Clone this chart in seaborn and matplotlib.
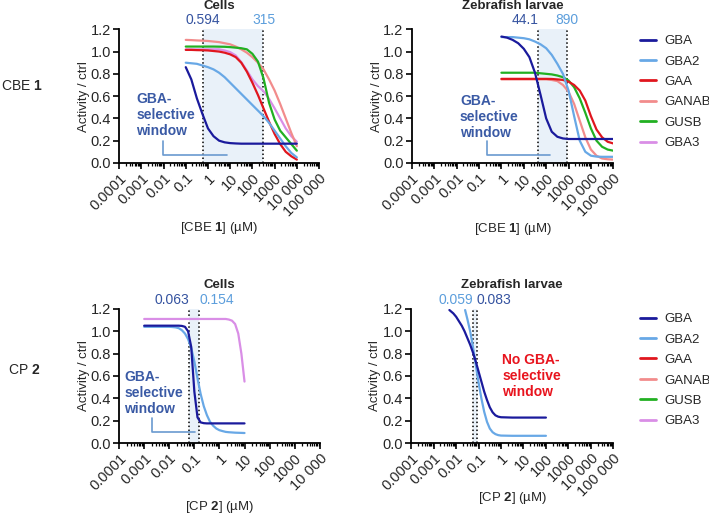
import numpy as np
import pandas as pd
import matplotlib.pyplot as plt
from matplotlib.lines import Line2D
from matplotlib.ticker import FixedLocator, LogLocator, NullFormatter
import seaborn as sns

sns.set_style('ticks')
plt.rcParams['font.family'] = ['Liberation Sans', 'DejaVu Sans']
plt.rcParams['mathtext.fontset'] = 'custom'
plt.rcParams['mathtext.rm'] = 'Liberation Sans'
plt.rcParams['mathtext.bf'] = 'Liberation Sans:bold'

enzymes = ['GBA', 'GBA2', 'GAA', 'GANAB', 'GUSB', 'GBA3']
colors = {'GBA': '#1a1a9c', 'GBA2': '#68a8e6', 'GAA': '#e0161e',
          'GANAB': '#f28c8c', 'GUSB': '#22b022', 'GBA3': '#d98ee6'}
draw_order = ['GBA3', 'GANAB', 'GUSB', 'GAA', 'GBA2', 'GBA']

# CBE 1 in cells (log10 concentration in uM)
c1_log = [-1, -0.75, -0.5, -0.25, 0, 0.25, 0.5, 0.75, 1, 1.25, 1.5,
          1.75, 2, 2.25, 2.5, 2.75, 3, 3.25, 3.5, 3.75, 4]
c1_gba = [0.86, 0.75, 0.58, 0.44, 0.31, 0.24, 0.20, 0.185, 0.178, 0.175, 0.173,
          0.173, 0.173, 0.173, 0.173, 0.173, 0.173, 0.173, 0.173, 0.173, 0.173]
c1_gba2 = [0.90, 0.895, 0.89, 0.875, 0.86, 0.84, 0.81, 0.77, 0.72, 0.67, 0.62,
           0.57, 0.52, 0.47, 0.42, 0.36, 0.29, 0.22, 0.15, 0.09, 0.05]
c1_gaa = [1.015, 1.015, 1.013, 1.012, 1.01, 1.005, 1.0, 0.99, 0.975, 0.95, 0.90,
          0.82, 0.72, 0.61, 0.49, 0.37, 0.26, 0.17, 0.10, 0.06, 0.03]
c1_ganab = [1.105, 1.103, 1.10, 1.098, 1.095, 1.09, 1.085, 1.075, 1.065, 1.045, 1.02,
            0.99, 0.95, 0.90, 0.84, 0.75, 0.65, 0.53, 0.40, 0.27, 0.15]
c1_gusb = [1.045, 1.045, 1.045, 1.045, 1.045, 1.045, 1.044, 1.043, 1.04, 1.035, 1.03,
           1.02, 0.98, 0.91, 0.76, 0.54, 0.39, 0.29, 0.23, 0.17, 0.11]
c1_gba3 = [1.02, 1.02, 1.02, 1.02, 1.02, 1.02, 1.02, 1.01, 0.995, 0.965, 0.905,
           0.83, 0.75, 0.69, 0.645, 0.575, 0.49, 0.40, 0.31, 0.24, 0.19]

# CBE 1 in zebrafish larvae
z1_log = [0, 0.25, 0.5, 0.75, 1, 1.25, 1.5, 1.75, 2, 2.25, 2.5,
          2.75, 3, 3.25, 3.5, 3.75, 4, 4.25, 4.5, 4.75, 5]
z1_gba = [1.135, 1.125, 1.105, 1.075, 1.025, 0.95, 0.81, 0.61, 0.40, 0.28, 0.235,
          0.22, 0.215, 0.215, 0.215, 0.215, 0.215, 0.215, 0.215, 0.215, 0.215]
z1_gba2 = [1.13, 1.13, 1.13, 1.125, 1.12, 1.11, 1.09, 1.065, 1.03, 0.97, 0.89,
           0.80, 0.65, 0.42, 0.20, 0.10, 0.065, 0.057, 0.055, 0.055, 0.055]
z1_gaa = [0.755, 0.755, 0.755, 0.755, 0.755, 0.755, 0.755, 0.755, 0.755, 0.754, 0.75,
          0.745, 0.73, 0.70, 0.65, 0.56, 0.42, 0.30, 0.23, 0.19, 0.175]
z1_ganab = [0.75, 0.75, 0.75, 0.75, 0.75, 0.75, 0.75, 0.75, 0.75, 0.745, 0.735,
            0.70, 0.64, 0.53, 0.38, 0.23, 0.12, 0.065, 0.04, 0.033, 0.03]
z1_gusb = [0.81, 0.81, 0.81, 0.81, 0.81, 0.81, 0.81, 0.805, 0.80, 0.795, 0.785,
           0.77, 0.74, 0.68, 0.58, 0.45, 0.31, 0.20, 0.145, 0.12, 0.11]

# CP 2 in cells
c2_log = [-3, -2.875, -2.75, -2.625, -2.5, -2.375, -2.25, -2.125, -2, -1.875, -1.75,
          -1.625, -1.5, -1.375, -1.25, -1.125, -1, -0.875, -0.75, -0.625, -0.5,
          -0.375, -0.25, -0.125, 0, 0.125, 0.25, 0.375, 0.5, 0.625, 0.75, 0.875, 1]
c2_gba = [1.05, 1.05, 1.05, 1.05, 1.05, 1.05, 1.05, 1.05, 1.05, 1.05, 1.05,
          1.05, 1.048, 1.04, 1.00, 0.86, 0.46, 0.23, 0.185, 0.178, 0.176,
          0.176, 0.176, 0.176, 0.176, 0.176, 0.176, 0.176, 0.176, 0.176, 0.176, 0.176, 0.176]
c2_gba2 = [1.04, 1.04, 1.04, 1.04, 1.04, 1.04, 1.04, 1.04, 1.04, 1.038, 1.035,
           1.028, 1.01, 0.98, 0.93, 0.85, 0.73, 0.58, 0.44, 0.33, 0.25,
           0.19, 0.155, 0.13, 0.115, 0.107, 0.10, 0.097, 0.095, 0.093, 0.092, 0.091, 0.09]
c2_gba3 = [1.11, 1.11, 1.11, 1.11, 1.11, 1.11, 1.11, 1.11, 1.11, 1.11, 1.11,
           1.11, 1.11, 1.11, 1.11, 1.11, 1.11, 1.11, 1.11, 1.11, 1.11,
           1.11, 1.11, 1.11, 1.11, 1.11, 1.11, 1.105, 1.095, 1.065, 0.98, 0.80, 0.55]

# CP 2 in zebrafish larvae
z2_gba_log = [-2.3, -2.125, -2, -1.875, -1.75, -1.625, -1.5, -1.375, -1.25, -1.125, -1,
              -0.875, -0.75, -0.625, -0.5, -0.375, -0.25, -0.125, 0, 0.5, 1, 1.5, 2]
z2_gba = [1.19, 1.16, 1.13, 1.09, 1.05, 1.00, 0.94, 0.88, 0.81, 0.73, 0.64,
          0.55, 0.46, 0.385, 0.32, 0.275, 0.248, 0.236, 0.231, 0.228, 0.228, 0.228, 0.228]
z2_gba2_log = [-1.6, -1.5, -1.375, -1.25, -1.125, -1, -0.875, -0.75, -0.625,
               -0.5, -0.375, -0.25, -0.125, 0, 0.5, 1, 1.5, 2]
z2_gba2 = [1.19, 1.11, 1.0, 0.86, 0.70, 0.54, 0.40, 0.28, 0.19,
           0.13, 0.097, 0.08, 0.071, 0.067, 0.065, 0.065, 0.065, 0.065]

# IC50 markers (value, enzyme it belongs to)
c1_ic50 = [(0.594, 'GBA'), (315, 'GBA2')]
z1_ic50 = [(44.1, 'GBA'), (890, 'GBA2')]
c2_ic50 = [(0.063, 'GBA'), (0.154, 'GBA2')]
z2_ic50 = [(0.059, 'GBA2'), (0.083, 'GBA')]

ic50_colors = {'GBA': '#3553a0', 'GBA2': '#5c9edc'}
window_color = '#3a5aa5'
bracket_color = '#6a9ad0'

tick_text = {1e-4: '0.0001', 1e-3: '0.001', 1e-2: '0.01', 1e-1: '0.1', 1: '1',
             10: '10', 100: '100', 1000: '1000', 1e4: '10 000', 1e5: '100 000'}


def curves_frame(curves):
    parts = []
    for name, logc, vals in curves:
        parts.append(pd.DataFrame({'conc': 10 ** np.array(logc, dtype=float),
                                   'activity': vals, 'enzyme': name}))
    return pd.concat(parts, ignore_index=True)


def draw_panel(ax, curves, xmax, ic50, aligns, title, xlabel):
    ax.set_xscale('log')
    df = curves_frame(curves)
    order = [e for e in draw_order if e in set(df['enzyme'])]
    sns.lineplot(data=df, x='conc', y='activity', hue='enzyme', hue_order=order,
                 palette=colors, estimator=None, lw=1.6, legend=False, ax=ax, zorder=3)

    lo, hi = ic50[0][0], ic50[1][0]
    ax.axvspan(min(lo, hi), max(lo, hi), color='#e9f1f9', zorder=0, lw=0)
    for (val, enz), ha in zip(ic50, aligns):
        ax.axvline(val, color='k', ls=(0, (1, 1.6)), lw=1.1, zorder=2)
        ax.annotate(f'{val:g}', xy=(val, 1.0), xycoords=('data', 'axes fraction'),
                    xytext=(0, 1.5), textcoords='offset points', ha=ha, va='bottom',
                    color=ic50_colors[enz], fontsize=10)

    ax.set_xlim(1e-4, xmax)
    ax.set_ylim(0, 1.2)
    ax.set_yticks(np.arange(0, 1.21, 0.2))
    ax.set_yticklabels([f'{v:.1f}' for v in np.arange(0, 1.21, 0.2)])
    majors = [t for t in tick_text if t <= xmax * 1.001]
    ax.xaxis.set_major_locator(FixedLocator(majors))
    ax.set_xticklabels([tick_text[t] for t in majors], rotation=45, ha='right',
                       rotation_mode='anchor')
    ax.xaxis.set_minor_locator(LogLocator(base=10, subs=np.arange(2, 10), numticks=50))
    ax.xaxis.set_minor_formatter(NullFormatter())
    ax.tick_params(axis='both', which='major', direction='out', length=4, width=1.2,
                   labelsize=10.5, color='k', pad=2)
    ax.tick_params(axis='x', which='minor', direction='out', length=2.5, width=0.9, color='k')
    sns.despine(ax=ax)
    for s in ['left', 'bottom']:
        ax.spines[s].set_linewidth(1.3)
        ax.spines[s].set_color('k')
    ax.grid(False)

    ax.text(0.5, 1.176, title, transform=ax.transAxes, ha='center', va='center',
            fontsize=9.5, fontweight='bold')
    ax.set_ylabel('Activity / ctrl', fontsize=9.5)
    ax.set_xlabel(xlabel, fontsize=9.5)


fig = plt.figure(figsize=(7.09, 5.14), dpi=100)
ax1 = fig.add_axes([0.168, 0.683, 0.282, 0.260])
ax2 = fig.add_axes([0.581, 0.683, 0.284, 0.260])
ax3 = fig.add_axes([0.168, 0.138, 0.283, 0.261])
ax4 = fig.add_axes([0.580, 0.138, 0.285, 0.261])

draw_panel(ax1, [('GBA', c1_log, c1_gba), ('GBA2', c1_log, c1_gba2), ('GAA', c1_log, c1_gaa),
                 ('GANAB', c1_log, c1_ganab), ('GUSB', c1_log, c1_gusb), ('GBA3', c1_log, c1_gba3)],
           1e5, c1_ic50, ['center', 'center'], 'Cells', '[CBE $\\mathbf{1}$] (µM)')
draw_panel(ax2, [('GBA', z1_log, z1_gba), ('GBA2', z1_log, z1_gba2), ('GAA', z1_log, z1_gaa),
                 ('GANAB', z1_log, z1_ganab), ('GUSB', z1_log, z1_gusb)],
           1e5, z1_ic50, ['right', 'center'], 'Zebrafish larvae', '[CBE $\\mathbf{1}$] (µM)')
draw_panel(ax3, [('GBA', c2_log, c2_gba), ('GBA2', c2_log, c2_gba2), ('GBA3', c2_log, c2_gba3)],
           1e4, c2_ic50, ['right', 'left'], 'Cells', '[CP $\\mathbf{2}$] (µM)')
draw_panel(ax4, [('GBA', z2_gba_log, z2_gba), ('GBA2', z2_gba2_log, z2_gba2)],
           1e5, z2_ic50, ['right', 'left'], 'Zebrafish larvae', '[CP $\\mathbf{2}$] (µM)')

for ax, lx, ly in [(ax1, -0.175, -0.487), (ax2, -0.175, -0.494),
                   (ax3, -0.175, -0.478), (ax4, -0.18, -0.41)]:
    ax.yaxis.set_label_coords(lx, 0.5)
    ax.yaxis.label.set_va('center')
    ax.xaxis.set_label_coords(0.5, ly)
    ax.xaxis.label.set_va('center')

# GBA-selective window notes with bracket
for ax, tx, ty, bx0, bx1, btop, bbot in [(ax1, 5.9e-4, 0.43, 0.0095, 7.3, 0.198, 0.072),
                                         (ax2, 0.0141, 0.413, 0.22, 150, 0.198, 0.072),
                                         (ax3, 1.6e-4, 0.448, 0.002, 0.107, 0.224, 0.10)]:
    ax.text(tx, ty, 'GBA-\nselective\nwindow', ha='left', va='center', color=window_color,
            fontsize=10, fontweight='bold', linespacing=1.15, zorder=4)
    ax.plot([bx0, bx0, bx1], [btop, bbot, bbot], color=bracket_color, lw=1.2, zorder=4)

ax4.text(1.13, 0.60, 'No GBA-\nselective\nwindow', ha='left', va='center', color='#e8141e',
         fontsize=10, fontweight='bold', linespacing=1.15)

fig.text(0.001, 0.833, 'CBE $\\mathbf{1}$', ha='left', va='center', fontsize=10)
fig.text(0.011, 0.280, 'CP $\\mathbf{2}$', ha='left', va='center', fontsize=10)

handles = [Line2D([], [], color=colors[e], lw=2) for e in enzymes]
for top in [0.932, 0.391]:
    fig.legend(handles, enzymes, loc='upper left', bbox_to_anchor=(0.903, top),
               frameon=False, fontsize=9.5, handlelength=1.2, handletextpad=0.6,
               labelspacing=0.62, borderpad=0, borderaxespad=0)

fig.savefig('out.png', dpi=100)
